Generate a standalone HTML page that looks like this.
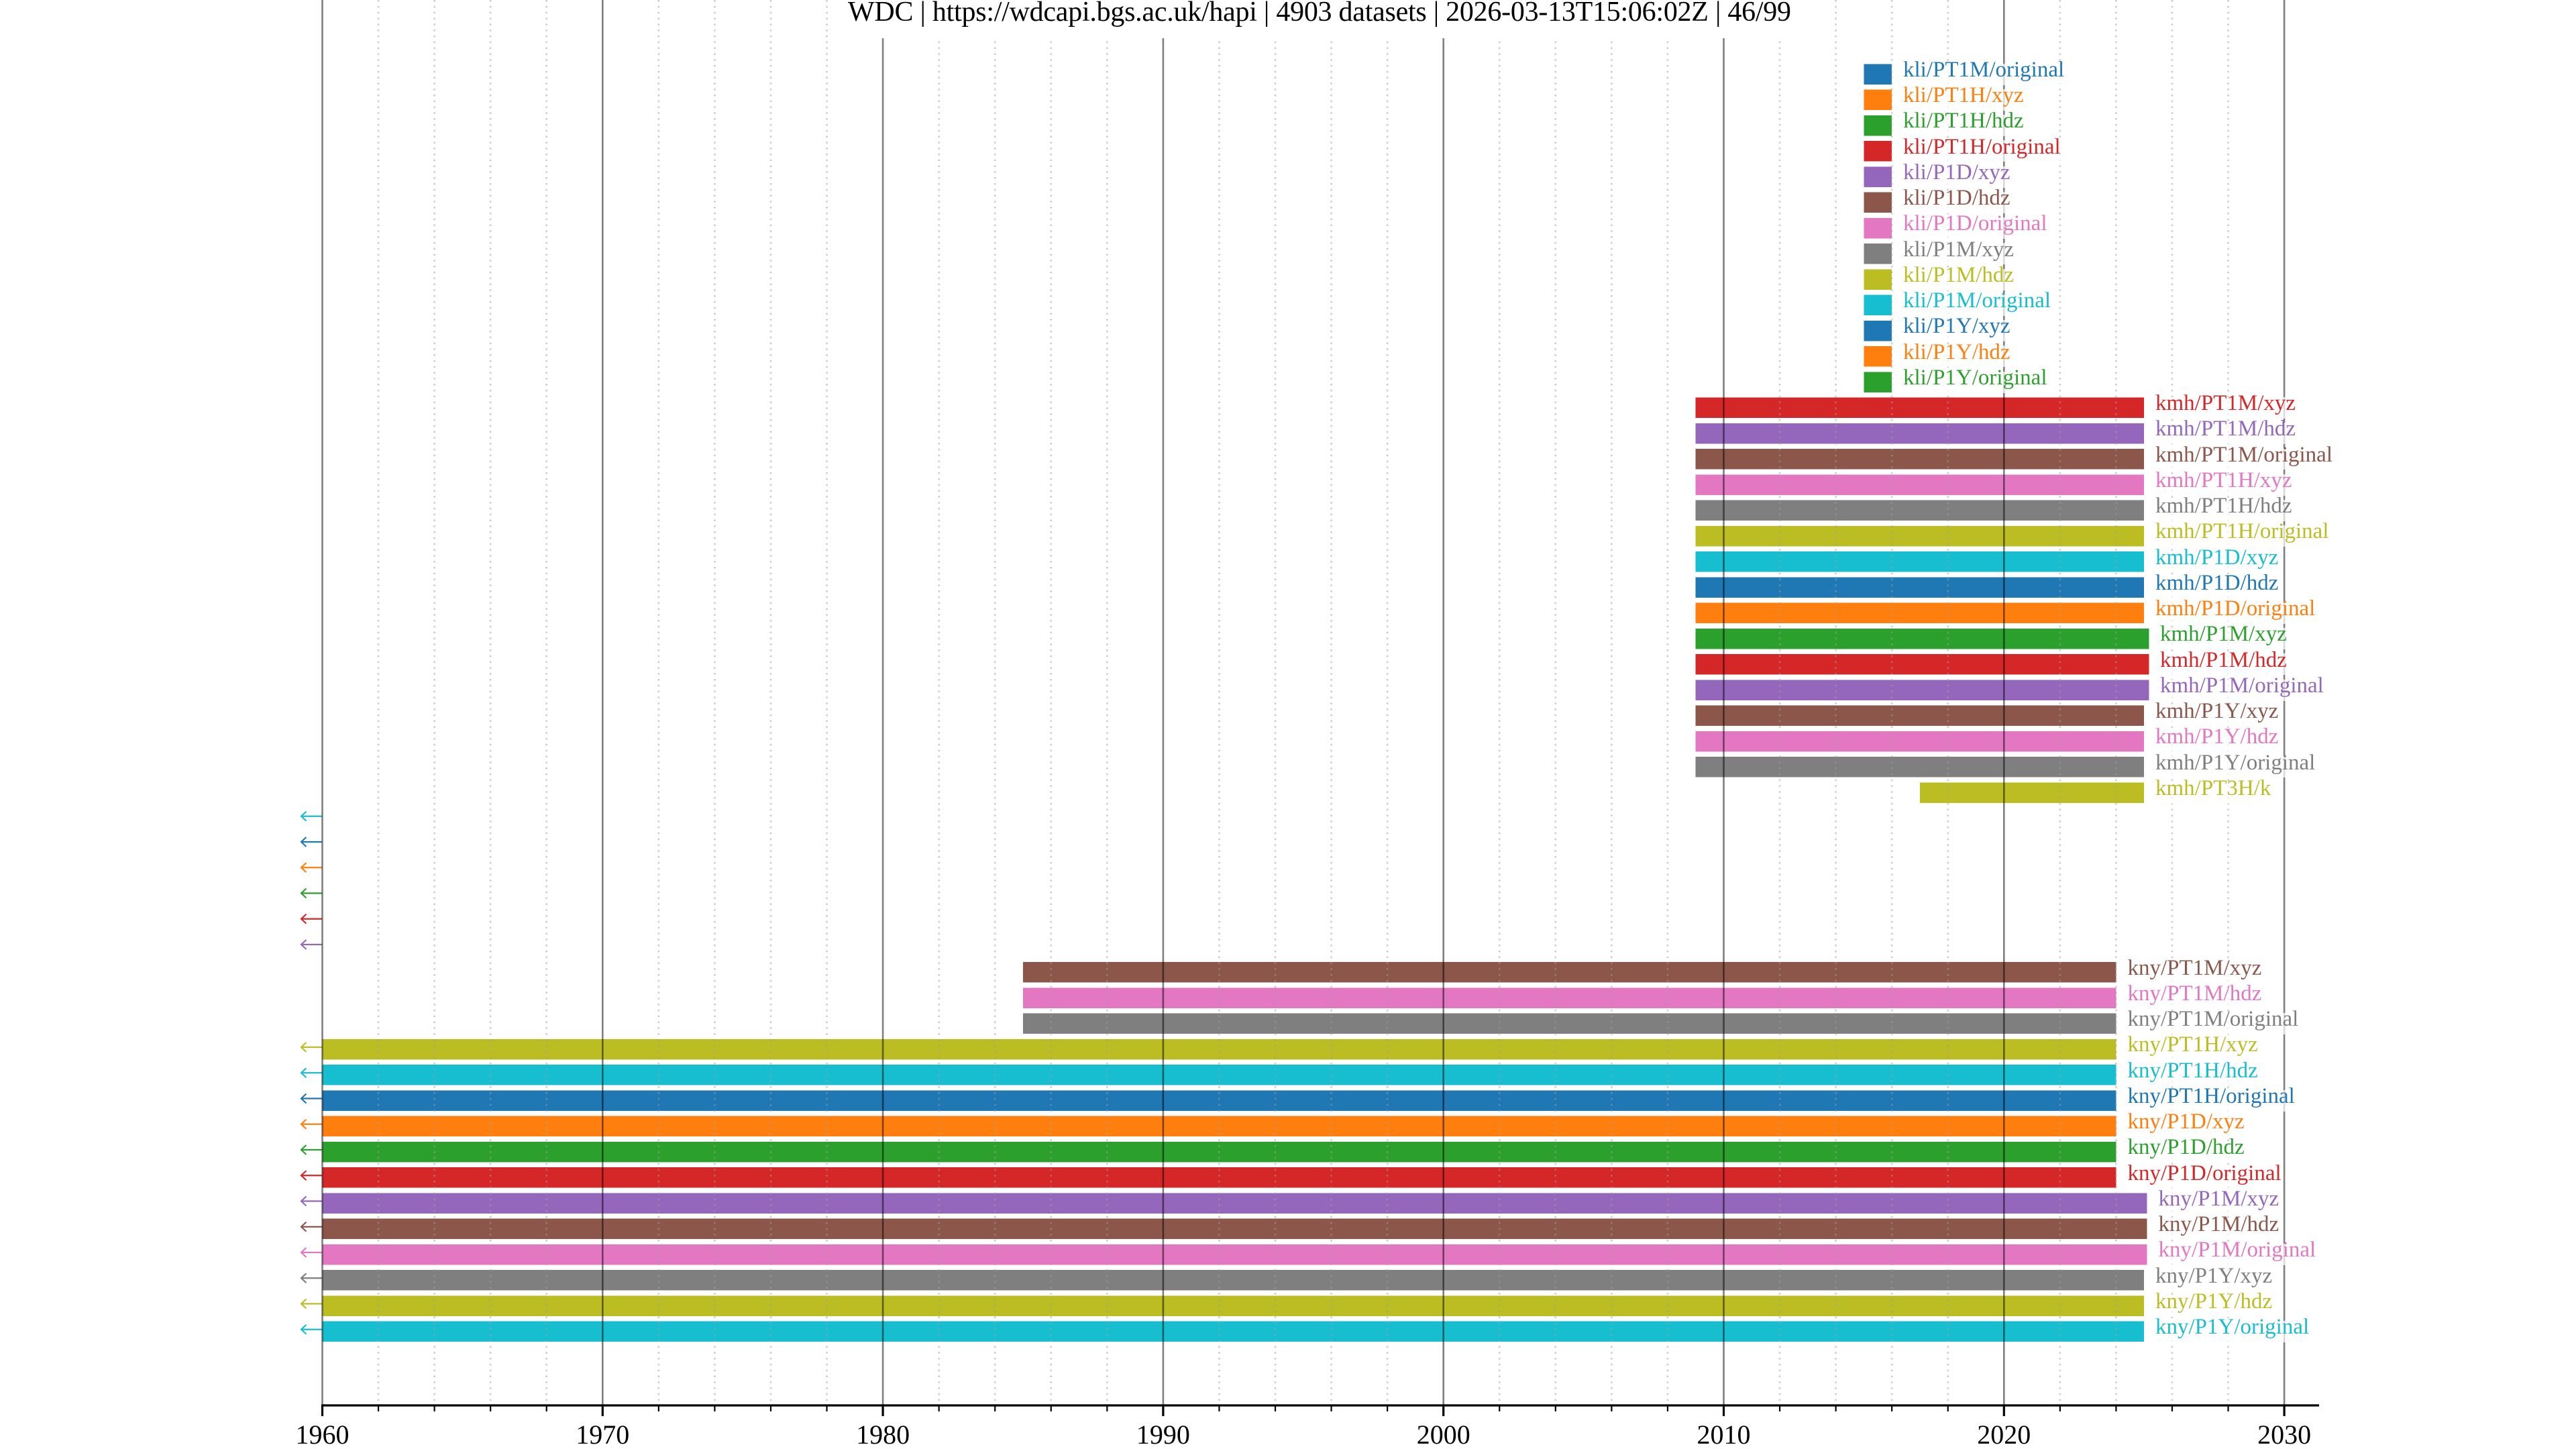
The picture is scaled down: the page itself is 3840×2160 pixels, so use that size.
<!DOCTYPE html>
<html><head><meta charset="utf-8">
<style>
html,body{margin:0;padding:0;background:#fff;}
#wrap{position:relative;width:3840px;height:2160px;overflow:hidden;background:#fff;}
svg{position:absolute;left:0;top:0;}
.l{position:absolute;height:32px;line-height:32px;font-family:"Liberation Serif","Times New Roman",serif;font-size:33px;white-space:nowrap;background:rgba(255,255,255,0.7);}
.l span{position:relative;top:-6.6px;}
</style></head><body><div id="wrap">
<svg width="3840" height="2160" viewBox="0 0 3840 2160" xmlns="http://www.w3.org/2000/svg">
<g shape-rendering="crispEdges">
<!-- kli -->
<rect x="2778.4" y="95.25" width="41.8" height="30.5" fill="#1f77b4"/>
<rect x="2778.4" y="133.5" width="41.8" height="30.5" fill="#ff7f0e"/>
<rect x="2778.4" y="171.75" width="41.8" height="30.5" fill="#2ca02c"/>
<rect x="2778.4" y="210" width="41.8" height="30.5" fill="#d62728"/>
<rect x="2778.4" y="248.25" width="41.8" height="30.5" fill="#9467bd"/>
<rect x="2778.4" y="286.5" width="41.8" height="30.5" fill="#8c564b"/>
<rect x="2778.4" y="324.75" width="41.8" height="30.5" fill="#e377c2"/>
<rect x="2778.4" y="363" width="41.8" height="30.5" fill="#7f7f7f"/>
<rect x="2778.4" y="401.25" width="41.8" height="30.5" fill="#bcbd22"/>
<rect x="2778.4" y="439.5" width="41.8" height="30.5" fill="#17becf"/>
<rect x="2778.4" y="477.75" width="41.8" height="30.5" fill="#1f77b4"/>
<rect x="2778.4" y="516" width="41.8" height="30.5" fill="#ff7f0e"/>
<rect x="2778.4" y="554.25" width="41.8" height="30.5" fill="#2ca02c"/>
<!-- kmh -->
<rect x="2527.7" y="592.5" width="668.5" height="30.5" fill="#d62728"/>
<rect x="2527.7" y="630.75" width="668.5" height="30.5" fill="#9467bd"/>
<rect x="2527.7" y="669" width="668.5" height="30.5" fill="#8c564b"/>
<rect x="2527.7" y="707.25" width="668.5" height="30.5" fill="#e377c2"/>
<rect x="2527.7" y="745.5" width="668.5" height="30.5" fill="#7f7f7f"/>
<rect x="2527.7" y="783.75" width="668.5" height="30.5" fill="#bcbd22"/>
<rect x="2527.7" y="822" width="668.5" height="30.5" fill="#17becf"/>
<rect x="2527.7" y="860.25" width="668.5" height="30.5" fill="#1f77b4"/>
<rect x="2527.7" y="898.5" width="668.5" height="30.5" fill="#ff7f0e"/>
<rect x="2527.7" y="936.75" width="675.6" height="30.5" fill="#2ca02c"/>
<rect x="2527.7" y="975" width="675.6" height="30.5" fill="#d62728"/>
<rect x="2527.7" y="1013.25" width="675.6" height="30.5" fill="#9467bd"/>
<rect x="2527.7" y="1051.5" width="668.5" height="30.5" fill="#8c564b"/>
<rect x="2527.7" y="1089.75" width="668.5" height="30.5" fill="#e377c2"/>
<rect x="2527.7" y="1128" width="668.5" height="30.5" fill="#7f7f7f"/>
<rect x="2862" y="1166.25" width="334.2" height="30.5" fill="#bcbd22"/>
<!-- kny -->
<rect x="1525" y="1434" width="1629.4" height="30.5" fill="#8c564b"/>
<rect x="1525" y="1472.25" width="1629.4" height="30.5" fill="#e377c2"/>
<rect x="1525" y="1510.5" width="1629.4" height="30.5" fill="#7f7f7f"/>
<rect x="480.5" y="1548.75" width="2673.9" height="30.5" fill="#bcbd22"/>
<rect x="480.5" y="1587" width="2673.9" height="30.5" fill="#17becf"/>
<rect x="480.5" y="1625.25" width="2673.9" height="30.5" fill="#1f77b4"/>
<rect x="480.5" y="1663.5" width="2673.9" height="30.5" fill="#ff7f0e"/>
<rect x="480.5" y="1701.75" width="2673.9" height="30.5" fill="#2ca02c"/>
<rect x="480.5" y="1740" width="2673.9" height="30.5" fill="#d62728"/>
<rect x="480.5" y="1778.25" width="2719.9" height="30.5" fill="#9467bd"/>
<rect x="480.5" y="1816.5" width="2719.9" height="30.5" fill="#8c564b"/>
<rect x="480.5" y="1854.75" width="2719.9" height="30.5" fill="#e377c2"/>
<rect x="480.5" y="1893" width="2715.7" height="30.5" fill="#7f7f7f"/>
<rect x="480.5" y="1931.25" width="2715.7" height="30.5" fill="#bcbd22"/>
<rect x="480.5" y="1969.5" width="2715.7" height="30.5" fill="#17becf"/>
</g>
<!-- arrows -->
<g fill="none" stroke-width="2.2">
<path d="M480 0H449M456.5 -7L449 0L456.5 7" transform="translate(0,1216.75)" stroke="#17becf"/>
<path d="M480 0H449M456.5 -7L449 0L456.5 7" transform="translate(0,1255)" stroke="#1f77b4"/>
<path d="M480 0H449M456.5 -7L449 0L456.5 7" transform="translate(0,1293.25)" stroke="#ff7f0e"/>
<path d="M480 0H449M456.5 -7L449 0L456.5 7" transform="translate(0,1331.5)" stroke="#2ca02c"/>
<path d="M480 0H449M456.5 -7L449 0L456.5 7" transform="translate(0,1369.75)" stroke="#d62728"/>
<path d="M480 0H449M456.5 -7L449 0L456.5 7" transform="translate(0,1408)" stroke="#9467bd"/>
<path d="M480 0H449M456.5 -7L449 0L456.5 7" transform="translate(0,1561)" stroke="#bcbd22"/>
<path d="M480 0H449M456.5 -7L449 0L456.5 7" transform="translate(0,1599.25)" stroke="#17becf"/>
<path d="M480 0H449M456.5 -7L449 0L456.5 7" transform="translate(0,1637.5)" stroke="#1f77b4"/>
<path d="M480 0H449M456.5 -7L449 0L456.5 7" transform="translate(0,1675.75)" stroke="#ff7f0e"/>
<path d="M480 0H449M456.5 -7L449 0L456.5 7" transform="translate(0,1714)" stroke="#2ca02c"/>
<path d="M480 0H449M456.5 -7L449 0L456.5 7" transform="translate(0,1752.25)" stroke="#d62728"/>
<path d="M480 0H449M456.5 -7L449 0L456.5 7" transform="translate(0,1790.5)" stroke="#9467bd"/>
<path d="M480 0H449M456.5 -7L449 0L456.5 7" transform="translate(0,1828.75)" stroke="#8c564b"/>
<path d="M480 0H449M456.5 -7L449 0L456.5 7" transform="translate(0,1867)" stroke="#e377c2"/>
<path d="M480 0H449M456.5 -7L449 0L456.5 7" transform="translate(0,1905.25)" stroke="#7f7f7f"/>
<path d="M480 0H449M456.5 -7L449 0L456.5 7" transform="translate(0,1943.5)" stroke="#bcbd22"/>
<path d="M480 0H449M456.5 -7L449 0L456.5 7" transform="translate(0,1981.75)" stroke="#17becf"/>
</g>
<!-- minor grid -->
<path fill="none" stroke="rgb(160,160,160)" stroke-opacity="0.5" stroke-width="2.7" stroke-dasharray="2.7 6.1"
d="M564.06 0V2095M647.62 0V2095M731.18 0V2095M814.74 0V2095M981.86 0V2095M1065.42 0V2095M1148.98 0V2095M1232.54 0V2095M1399.66 0V2095M1483.22 0V2095M1566.78 0V2095M1650.34 0V2095M1817.46 0V2095M1901.02 0V2095M1984.58 0V2095M2068.14 0V2095M2235.26 0V2095M2318.82 0V2095M2402.38 0V2095M2485.94 0V2095M2653.06 0V2095M2736.62 0V2095M2820.18 0V2095M2903.74 0V2095M3070.86 0V2095M3154.42 0V2095M3237.98 0V2095M3321.54 0V2095"/>
<!-- major grid -->
<path fill="none" stroke="#000" stroke-opacity="0.5" stroke-width="2.6"
d="M480.5 0V2095M898.3 0V2095M1316.1 0V2095M1733.9 0V2095M2151.7 0V2095M2569.5 0V2095M2987.3 0V2095M3405.1 0V2095"/>
<!-- axis -->
<path fill="none" stroke="#000" stroke-width="3.3" d="M479 2095H3457"/>
<path fill="none" stroke="#000" stroke-width="3.2" d="M480.5 2095V2111M898.3 2095V2111M1316.1 2095V2111M1733.9 2095V2111M2151.7 2095V2111M2569.5 2095V2111M2987.3 2095V2111M3405.1 2095V2111"/>
<path fill="none" stroke="#000" stroke-width="2.2"
d="M564.06 2095V2104M647.62 2095V2104M731.18 2095V2104M814.74 2095V2104M981.86 2095V2104M1065.42 2095V2104M1148.98 2095V2104M1232.54 2095V2104M1399.66 2095V2104M1483.22 2095V2104M1566.78 2095V2104M1650.34 2095V2104M1817.46 2095V2104M1901.02 2095V2104M1984.58 2095V2104M2068.14 2095V2104M2235.26 2095V2104M2318.82 2095V2104M2402.38 2095V2104M2485.94 2095V2104M2653.06 2095V2104M2736.62 2095V2104M2820.18 2095V2104M2903.74 2095V2104M3070.86 2095V2104M3154.42 2095V2104M3237.98 2095V2104M3321.54 2095V2104"/>
<g font-family="Liberation Serif, Times New Roman, serif" font-size="40" fill="#000" text-anchor="middle">
<text x="480.5" y="2152">1960</text>
<text x="898.3" y="2152">1970</text>
<text x="1316.1" y="2152">1980</text>
<text x="1733.9" y="2152">1990</text>
<text x="2151.7" y="2152">2000</text>
<text x="2569.5" y="2152">2010</text>
<text x="2987.3" y="2152">2020</text>
<text x="3405.1" y="2152">2030</text>
</g>
<!-- title -->
<rect x="1245" y="0" width="1445" height="57" fill="#fff"/>
<text x="1967" y="31" font-family="Liberation Serif, Times New Roman, serif" font-size="42" fill="#000" text-anchor="middle" textLength="1406" lengthAdjust="spacing">WDC | https://wdcapi.bgs.ac.uk/hapi | 4903 datasets | 2026-03-13T15:06:02Z | 46/99</text>
</svg>

<div class="l" style="left:2837px;top:94.5px;color:#1f77b4"><span>kli/PT1M/original</span></div>
<div class="l" style="left:2837px;top:132.75px;color:#ff7f0e"><span>kli/PT1H/xyz</span></div>
<div class="l" style="left:2837px;top:171px;color:#2ca02c"><span>kli/PT1H/hdz</span></div>
<div class="l" style="left:2837px;top:209.25px;color:#d62728"><span>kli/PT1H/original</span></div>
<div class="l" style="left:2837px;top:247.5px;color:#9467bd"><span>kli/P1D/xyz</span></div>
<div class="l" style="left:2837px;top:285.75px;color:#8c564b"><span>kli/P1D/hdz</span></div>
<div class="l" style="left:2837px;top:324px;color:#e377c2"><span>kli/P1D/original</span></div>
<div class="l" style="left:2837px;top:362.25px;color:#7f7f7f"><span>kli/P1M/xyz</span></div>
<div class="l" style="left:2837px;top:400.5px;color:#bcbd22"><span>kli/P1M/hdz</span></div>
<div class="l" style="left:2837px;top:438.75px;color:#17becf"><span>kli/P1M/original</span></div>
<div class="l" style="left:2837px;top:477px;color:#1f77b4"><span>kli/P1Y/xyz</span></div>
<div class="l" style="left:2837px;top:515.25px;color:#ff7f0e"><span>kli/P1Y/hdz</span></div>
<div class="l" style="left:2837px;top:553.5px;color:#2ca02c"><span>kli/P1Y/original</span></div>

<div class="l" style="left:3213px;top:591.75px;color:#d62728"><span>kmh/PT1M/xyz</span></div>
<div class="l" style="left:3213px;top:630px;color:#9467bd"><span>kmh/PT1M/hdz</span></div>
<div class="l" style="left:3213px;top:668.25px;color:#8c564b"><span>kmh/PT1M/original</span></div>
<div class="l" style="left:3213px;top:706.5px;color:#e377c2"><span>kmh/PT1H/xyz</span></div>
<div class="l" style="left:3213px;top:744.75px;color:#7f7f7f"><span>kmh/PT1H/hdz</span></div>
<div class="l" style="left:3213px;top:783px;color:#bcbd22"><span>kmh/PT1H/original</span></div>
<div class="l" style="left:3213px;top:821.25px;color:#17becf"><span>kmh/P1D/xyz</span></div>
<div class="l" style="left:3213px;top:859.5px;color:#1f77b4"><span>kmh/P1D/hdz</span></div>
<div class="l" style="left:3213px;top:897.75px;color:#ff7f0e"><span>kmh/P1D/original</span></div>
<div class="l" style="left:3220px;top:936px;color:#2ca02c"><span>kmh/P1M/xyz</span></div>
<div class="l" style="left:3220px;top:974.25px;color:#d62728"><span>kmh/P1M/hdz</span></div>
<div class="l" style="left:3220px;top:1012.5px;color:#9467bd"><span>kmh/P1M/original</span></div>
<div class="l" style="left:3213px;top:1050.75px;color:#8c564b"><span>kmh/P1Y/xyz</span></div>
<div class="l" style="left:3213px;top:1089px;color:#e377c2"><span>kmh/P1Y/hdz</span></div>
<div class="l" style="left:3213px;top:1127.25px;color:#7f7f7f"><span>kmh/P1Y/original</span></div>
<div class="l" style="left:3213px;top:1165.5px;color:#bcbd22"><span>kmh/PT3H/k</span></div>

<div class="l" style="left:3171.5px;top:1433.25px;color:#8c564b"><span>kny/PT1M/xyz</span></div>
<div class="l" style="left:3171.5px;top:1471.5px;color:#e377c2"><span>kny/PT1M/hdz</span></div>
<div class="l" style="left:3171.5px;top:1509.75px;color:#7f7f7f"><span>kny/PT1M/original</span></div>
<div class="l" style="left:3171.5px;top:1548px;color:#bcbd22"><span>kny/PT1H/xyz</span></div>
<div class="l" style="left:3171.5px;top:1586.25px;color:#17becf"><span>kny/PT1H/hdz</span></div>
<div class="l" style="left:3171.5px;top:1624.5px;color:#1f77b4"><span>kny/PT1H/original</span></div>
<div class="l" style="left:3171.5px;top:1662.75px;color:#ff7f0e"><span>kny/P1D/xyz</span></div>
<div class="l" style="left:3171.5px;top:1701px;color:#2ca02c"><span>kny/P1D/hdz</span></div>
<div class="l" style="left:3171.5px;top:1739.25px;color:#d62728"><span>kny/P1D/original</span></div>
<div class="l" style="left:3217.5px;top:1777.5px;color:#9467bd"><span>kny/P1M/xyz</span></div>
<div class="l" style="left:3217.5px;top:1815.75px;color:#8c564b"><span>kny/P1M/hdz</span></div>
<div class="l" style="left:3217.5px;top:1854px;color:#e377c2"><span>kny/P1M/original</span></div>
<div class="l" style="left:3213px;top:1892.25px;color:#7f7f7f"><span>kny/P1Y/xyz</span></div>
<div class="l" style="left:3213px;top:1930.5px;color:#bcbd22"><span>kny/P1Y/hdz</span></div>
<div class="l" style="left:3213px;top:1968.75px;color:#17becf"><span>kny/P1Y/original</span></div>
</div></body></html>
